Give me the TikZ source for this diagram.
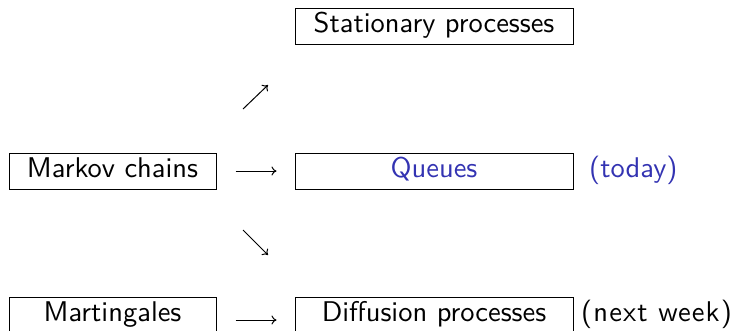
\documentclass[tikz,border=0pt]{standalone}
\usepackage{fontspec}
\setsansfont{lmsans10-regular.otf}
\usetikzlibrary{arrows.meta}
\definecolor{structblue}{rgb}{0.2,0.2,0.7}
% labels are set at 10pt and enlarged, keeping the 10pt design size
\newcommand\lbl[1]{\scalebox{2.85}{#1}}
\tikzset{
  every node/.style={font=\sffamily\fontsize{10}{12}\selectfont},
  topic/.style={draw, line width=1pt, inner xsep=0pt, inner ysep=0pt,
    text height=24pt, text depth=12pt, minimum height=36pt},
  lastrow/.style={text depth=22pt, minimum height=46pt},
  wide/.style={topic, minimum width=278pt},
  narrow/.style={topic, minimum width=207pt},
  note/.style={anchor=base west, inner sep=0pt},
  arr/.style={line width=1pt, -{Computer Modern Rightarrow[length=5pt,width=9pt]}},
}
\begin{document}
\begin{tikzpicture}[x=1pt,y=-1pt]
  \path[use as bounding box] (0,0) rectangle (734,330);
  \clip (0,0) rectangle (734,330);

  % topics
  \node[wide]   (st) at (434,26)    {\lbl{Stationary processes}};
  \node[narrow] (mc) at (112.5,171) {\lbl{Markov chains}};
  \node[wide, text=structblue] (qu) at (434,171) {\lbl{Queues}};
  \node[narrow, lastrow] (mg) at (112.5,320) {\lbl{Martingales}};
  \node[wide, lastrow]   (df) at (434,320)   {\lbl{Diffusion processes}};

  % schedule notes
  \node[note, text=structblue] (today) at (589,177) {\lbl{(today)}};
  \node[note] (nextwk) at (581,321)
    {\lbl{\addfontfeatures{LetterSpace=4}(next week)}};

  % links between topics
  \draw[arr, shorten <=19pt, shorten >=18pt] (mc.east) -- (qu.west);
  \draw[arr, shorten <=19pt, shorten >=18pt] (mg.east) -- (df.west);
  \coordinate (up0) at (243,109);
  \coordinate (up1) at (268,85);
  \coordinate (dn0) at (243,230);
  \coordinate (dn1) at (268,255);
  \draw[arr] (up0) -- (up1);
  \draw[arr] (dn0) -- (dn1);
\end{tikzpicture}
\end{document}
